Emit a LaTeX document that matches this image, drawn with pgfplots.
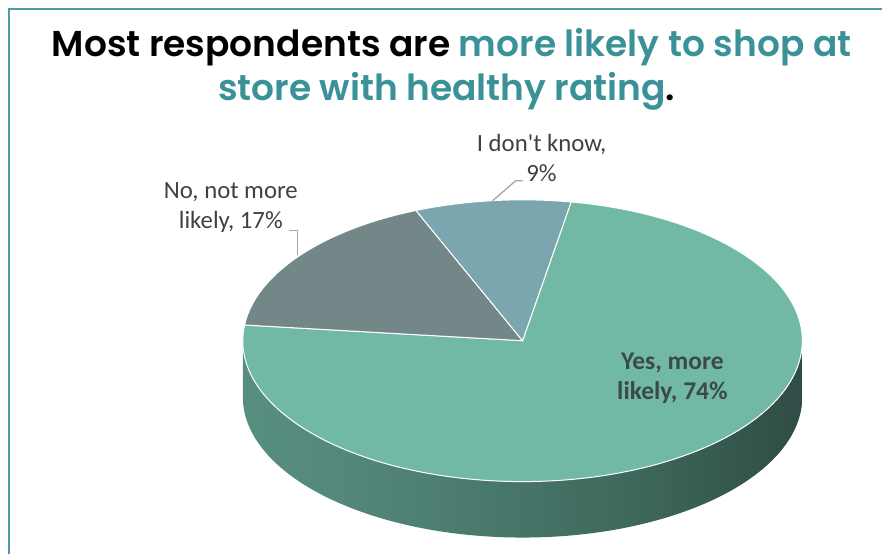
\documentclass[border=0pt]{standalone}
\usepackage{fontspec}
\setmainfont{Carlito}
\newfontfamily\titlefont{Poppins}[BoldFont={Poppins SemiBold}]
\usepackage{pgfplots}
\usepackage{pgfplotstable}
\pgfplotsset{compat=1.18}
\definecolor{titleteal}{HTML}{3A9197}
\definecolor{framec}{HTML}{4A9AB0}
\definecolor{yesc}{HTML}{72B9A5}
\definecolor{noc}{HTML}{748788}
\definecolor{idkc}{HTML}{7BA6AF}
\definecolor{lblc}{HTML}{404040}
\definecolor{yeslbl}{HTML}{3B4A47}
\definecolor{leader}{HTML}{A6A6A6}
\definecolor{sideA}{HTML}{62A08C}
\definecolor{sideB}{HTML}{53877A}
\definecolor{sideC}{HTML}{3E685C}
\definecolor{sideD}{HTML}{2E4A43}
\pgfdeclarehorizontalshading{sideshade}{100bp}{color(0bp)=(sideA); color(35bp)=(sideB); color(60bp)=(sideC); color(76bp)=(sideD); color(100bp)=(sideD)}

\pgfplotstableread{
label value
idk 9
no 17
yes 74
}\piedata

\begin{document}
\begin{tikzpicture}
\pgfplotstablegetelem{0}{value}\of\piedata \edef\vA{\pgfplotsretval}
\pgfplotstablegetelem{1}{value}\of\piedata \edef\vB{\pgfplotsretval}
\pgfplotstablegetelem{2}{value}\of\piedata \edef\vC{\pgfplotsretval}
\pgfmathsetmacro\aA{80}
\pgfmathsetmacro\aB{\aA+3.6*\vA}
\pgfmathsetmacro\aC{\aB+3.6*\vB}
\pgfmathsetmacro\aD{\aC+3.6*\vC}
\def\cx{523}\def\cy{213}
\begin{axis}[x=1pt,y=1pt,xmin=0,xmax=883,ymin=0,ymax=554,hide axis,clip=false]
\path (axis cs:0,0) rectangle (axis cs:883,554);
% frame
\draw[framec, line width=1.5pt] (axis cs:9,0) -- (axis cs:9,545) -- (axis cs:883,545);
% side of pie
\shade[shading=sideshade] (axis cs:{\cx-280},\cy) arc[start angle=180, end angle=360, x radius=280pt, y radius=141pt] -- ++(0pt,-56pt) arc[start angle=360, end angle=180, x radius=280pt, y radius=141pt] -- cycle;
% top slices
\fill[yesc, draw=white, line width=1pt] (axis cs:\cx,\cy) -- (axis cs:{\cx+280*cos(\aC)},{\cy+141*sin(\aC)}) arc[start angle=\aC, end angle=\aD, x radius=280pt, y radius=141pt] -- cycle;
\fill[noc, draw=white, line width=1pt] (axis cs:\cx,\cy) -- (axis cs:{\cx+280*cos(\aB)},{\cy+141*sin(\aB)}) arc[start angle=\aB, end angle=\aC, x radius=280pt, y radius=141pt] -- cycle;
\fill[idkc, draw=white, line width=1pt] (axis cs:\cx,\cy) -- (axis cs:{\cx+280*cos(\aA)},{\cy+141*sin(\aA)}) arc[start angle=\aA, end angle=\aB, x radius=280pt, y radius=141pt] -- cycle;
% leader lines
\draw[leader, line width=1.3pt] (axis cs:493,353) -- (axis cs:516,373) -- (axis cs:523,373);
\draw[leader, line width=1.3pt] (axis cs:289,323) -- (axis cs:298,323) -- (axis cs:298,299);
% labels
\node[lblc, font=\fontsize{24.8}{30}\selectfont, align=center] at (axis cs:542,396) {I don\textquotesingle t know,\\9\%};
\node[lblc, font=\fontsize{24.8}{30}\selectfont, align=center] at (axis cs:231,346) {No, not more\\likely, 17\%};
\node[yeslbl, font=\fontsize{25.5}{30}\selectfont\bfseries, align=center] at (axis cs:673,175) {Yes, more\\likely, 74\%};
% title
\node[anchor=base, font=\titlefont\bfseries\fontsize{36}{40}\selectfont] at (axis cs:452,497) {Most respondents are \textcolor{titleteal}{more likely to shop at}};
\node[anchor=base, font=\titlefont\bfseries\fontsize{36}{40}\selectfont] at (axis cs:447,453) {\textcolor{titleteal}{store with healthy rating}.};
\end{axis}
\end{tikzpicture}
\end{document}
